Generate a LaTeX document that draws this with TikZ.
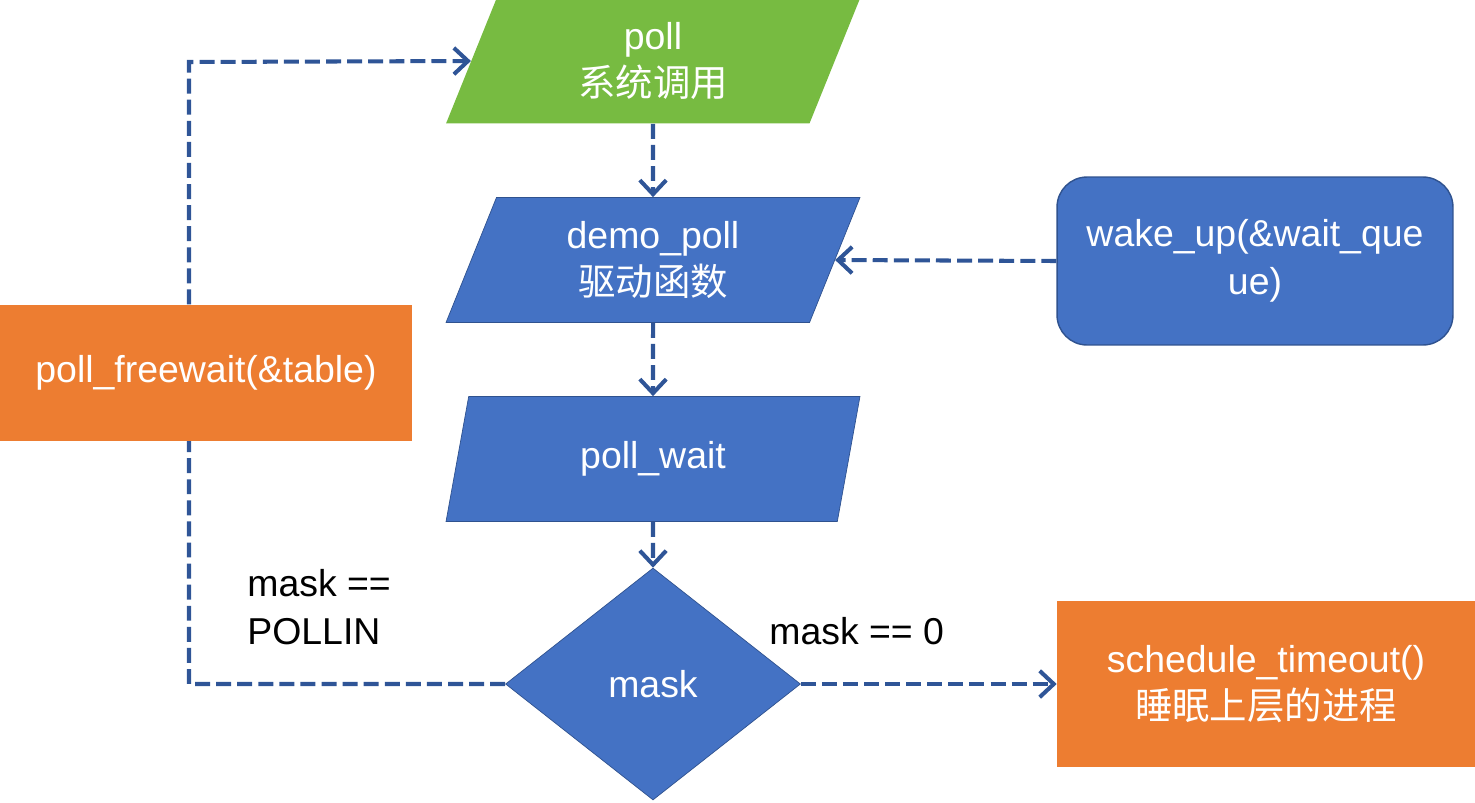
\documentclass[tikz,border=0pt]{standalone}
\usepackage{fontspec}
\setmainfont{Liberation Sans}
\newfontfamily\cjk{Noto Sans CJK SC}
\usetikzlibrary{shapes.geometric,arrows.meta,backgrounds}
\definecolor{pgGreen}{HTML}{77BB41}
\definecolor{pgBlue}{HTML}{4472C4}
\definecolor{pgEdge}{HTML}{2F528F}
\definecolor{pgOrange}{HTML}{ED7D31}
\definecolor{pgArrow}{HTML}{2F5597}
\tikzset{
  io/.style={trapezium, trapezium left angle=57, trapezium right angle=123, trapezium stretches body, minimum width=8.28cm, minimum height=2.5cm, inner sep=0pt, fill=pgBlue, draw=pgEdge, thin, text=white, align=center},
  ioG/.style={io, fill=pgGreen, draw=none},
  dec/.style={diamond, minimum width=5.9cm, minimum height=4.64cm, inner sep=0pt, fill=pgBlue, draw=pgEdge, thin, text=white},
  act/.style={rectangle, fill=pgOrange, text=white, align=center, inner sep=0pt},
  evt/.style={rectangle, rounded corners=0.6cm, fill=pgBlue, draw=pgEdge, thick, text=white, align=center, minimum width=7.92cm, minimum height=3.36cm, inner sep=0pt},
  arr/.style={-{Straight Barb[length=8pt,width=15pt]}, line width=2.3pt, draw=pgArrow, dash pattern=on 8.5pt off 3.5pt},
  lbl/.style={text=black, align=left, inner sep=0pt},
}
\begin{document}
\begin{tikzpicture}[x=0.02cm, y=-0.02cm, font=\fontsize{21.3}{27}\selectfont]
    \useasboundingbox (0,0) rectangle (1475,802);
    % ---------- main flow ----------
    \node[ioG] (poll) at (653,61) {poll\\{\cjk 系统调用}};
    \node[io] (demo) at (653,260) {demo\_poll\\{\cjk 驱动函数}};
    \node[io] (wait) at (653,459) {poll\_wait};
    \node[dec] (mask) at (653,684) {mask};
    % ---------- side boxes ----------
    \node[evt] (wake) at (1255,261) {wake\_up(\&wait\_que\\ue)};
    \node[act, minimum width=8.26cm, minimum height=2.72cm] (free) at (206,373) {poll\_freewait(\&table)};
    \node[act, minimum width=8.36cm, minimum height=3.34cm] (sched) at (1266,684) {schedule\_timeout()\\{\cjk 睡眠上层的进程}};
    % ---------- conditions ----------
    \node[lbl, anchor=west] (condin) at (247,607) {mask ==\\POLLIN};
    \node[lbl, anchor=west] (condzero) at (769,631) {mask == 0};
    % ---------- arrows ----------
    \draw[arr] (poll.south) -- (demo.north);
    \draw[arr] (demo.south) -- (wait.north);
    \draw[arr] (wait.south) -- (mask.north);
    \draw[arr] (wake.west) -- (demo.east);
    \draw[arr] (mask.east) -- (sched.west);
    \coordinate (bend) at (189,62);
    \begin{scope}[on background layer]
        \draw[arr] (mask.west) -| (bend) -- (poll.west);
    \end{scope}
\end{tikzpicture}
\end{document}
